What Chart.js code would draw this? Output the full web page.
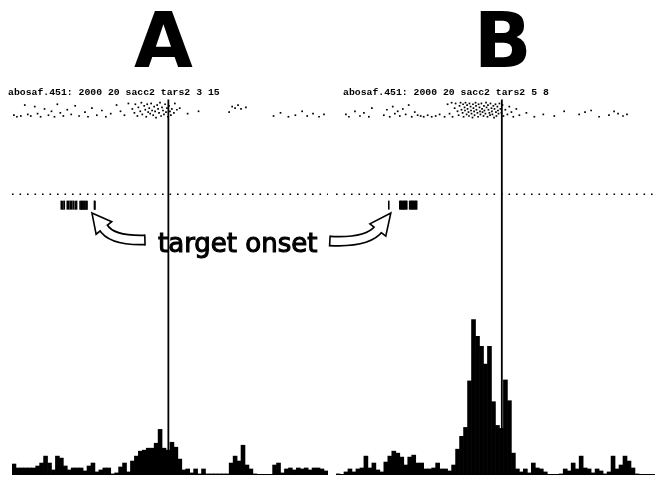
<!DOCTYPE html>
<html>
<head>
<meta charset="utf-8">
<script src="https://cdn.jsdelivr.net/npm/chart.js@4.4.1/dist/chart.umd.min.js"></script>
<style>
  html, body { margin: 0; padding: 0; background: #fff; }
  #wrap { position: relative; width: 661px; height: 481px; overflow: hidden; }
  canvas { position: absolute; top: 0; }
  #panelA { left: 0; }
  #panelB { left: 326px; }
</style>
</head>
<body>
<div id="wrap">
  <canvas id="panelA" width="334" height="481"></canvas>
  <canvas id="panelB" width="335" height="481"></canvas>
</div>
<script>
// window of 2000 ms per panel, histogram bins of 25 ms
const WINDOW_MS = 2000;
const BIN_MS = 25;

const headerA = 'abosaf.451: 2000 20 sacc2 tars2 3 15';
const headerB = 'abosaf.451: 2000 20 sacc2 tars2 5 8';

// saccade onset (ms into the window)
const saccadeA = 990;
const saccadeB = 1040;

// spike density histograms (spikes/s), one value per 25 ms bin
const histA = [11, 7, 7, 7, 7, 7, 9, 12, 19, 12,
  5, 19, 17, 9, 5, 7, 7, 7, 4, 9,
  12, 3, 5, 7, 7, 1, 2, 8, 12, 3,
  14, 19, 24, 25, 27, 27, 32, 46, 27, 25,
  33, 28, 16, 5, 6, 2, 6, 1, 6, 1,
  1, 1, 1, 1, 1, 12, 19, 14, 30, 10,
  6, 1, 0, 0, 0, 0, 10, 12, 2, 6,
  7, 5, 7, 6, 7, 5, 7, 7, 6, 4];
const histB = [1, 0, 3, 6, 3, 6, 7, 19, 7, 12,
  5, 3, 13, 19, 24, 22, 18, 10, 18, 20,
  12, 12, 6, 6, 7, 12, 6, 6, 4, 10,
  26, 39, 48, 95, 157, 140, 130, 112, 130, 74,
  50, 47, 96, 75, 22, 6, 3, 6, 2, 12,
  7, 6, 3, 0, 0, 0, 1, 6, 4, 12,
  6, 19, 7, 6, 2, 6, 4, 1, 3, 19,
  6, 10, 19, 14, 7, 1, 0, 0, 0, 0];

// raster: [time ms, trial]
const rasterA = [[12,17],[31,19],[56,18],[81,4],[100,16],[119,18],[144,6],[162,15],[181,19],[206,9],
  [231,17],[250,12],[269,19],[287,3],[306,14],[325,18],[350,10],[375,16],[400,5],[425,18],
  [462,13],[481,19],[506,8],[537,17],[569,11],[594,19],[625,15],[662,4],[687,12],[712,17],[737,2],
  [762,9],[775,14],[781,3],[794,18],[800,7],[812,12],[819,1],[825,16],[837,5],[844,10],
  [850,19],[856,3],[862,13],[869,8],[875,15],[881,2],[887,11],[894,17],[900,6],[906,12],
  [912,20],[919,4],[925,9],[931,14],[937,1],[944,18],[950,7],[956,11],[962,16],[969,3],
  [975,13],[981,8],[987,19],[994,5],[1000,12],[1006,17],[1012,9],[1025,14],[1031,2],[1044,10],
  [1062,8],[1112,15],[1181,12],
  [1375,13],[1394,6],[1412,8],[1431,4],[1450,9],[1481,7],
  [1656,18],[1700,14],[1750,19],[1794,17],[1837,12],[1869,18],[1906,15],[1944,19],[1975,16]];
const rasterB = [[62,16],[81,19],[119,12],[150,18],[175,14],[206,19],[225,8],
  [300,17],[319,10],[337,19],[356,6],[369,15],[387,12],[400,18],[419,9],[437,16],[456,4],
  [475,19],[494,13],[512,17],[531,18],[550,19],[575,17],[600,19],[625,18],[650,16],[681,19],
  [700,3],[712,15],[725,1],[731,19],[744,8],[750,2],[762,12],[769,17],[775,5],[781,1],
  [787,10],[794,14],[797,3],[800,19],[806,7],[809,11],[812,1],[819,16],[822,4],[825,9],
  [831,13],[834,18],[837,2],[844,6],[847,11],[850,15],[856,20],[859,3],[862,8],[866,12],
  [869,17],[875,1],[878,5],[881,10],[887,14],[891,19],[894,3],[900,7],[903,12],[906,16],
  [912,2],[916,9],[919,13],[925,18],[928,5],[931,11],[937,15],[941,1],[944,7],[950,19],
  [953,4],[956,10],[962,14],[966,17],[969,2],[975,8],[978,12],[981,16],[987,5],[991,20],
  [994,9],[1000,3],[1003,13],[1006,18],[1012,6],[1016,11],[1019,15],[1025,2],[1031,9],[1037,14],
  [1044,4],[1050,18],[1062,10],[1075,16],[1087,6],[1100,13],[1112,19],[1131,9],
  [1150,17],[1194,14],[1244,19],[1300,16],[1369,18],[1431,12],
  [1525,16],[1562,13],[1600,11],[1650,19],[1712,17],[1744,12],[1769,15],[1800,18],[1825,16]];

// target onset per trial (ms into the window)
const targetA = [312, 322, 331, 350, 359, 369, 378, 388, 400, 409, 431, 438, 444, 450, 456, 462, 469, 475, 522, 525];
const targetB = [331, 400, 406, 412, 419, 425, 431, 437, 444, 462, 469, 475, 481, 487, 494, 500, 506];

// vertical layout of the row axis
const ROW_MIN = -5, ROW_MAX = 477, LINE_TOP_ROW = -3;
const SEP_ROW = 118, TARGET_ROW = 132, ARROW_ROW = 142;
const HIST_MAX = 381;

function drawArrow(ctx, tip, end, ctrl, tail) {
  const d = Math.hypot(tip.x - end.x, tip.y - end.y);
  const ux = (tip.x - end.x) / d, uy = (tip.y - end.y) / d;
  const nx = -uy, ny = ux;
  const shaft = () => {
    ctx.beginPath();
    ctx.moveTo(tail.x, tail.y);
    ctx.quadraticCurveTo(ctrl.x, ctrl.y, end.x + ux * 1.5, end.y + uy * 1.5);
  };
  ctx.lineCap = 'butt';
  shaft();
  ctx.strokeStyle = '#000';
  ctx.lineWidth = 11;
  ctx.stroke();
  // head
  ctx.beginPath();
  ctx.moveTo(tip.x, tip.y);
  ctx.lineTo(end.x + nx * 10, end.y + ny * 10);
  ctx.lineTo(end.x - nx * 10, end.y - ny * 10);
  ctx.closePath();
  ctx.fillStyle = '#fff';
  ctx.fill();
  ctx.lineWidth = 1.6;
  ctx.lineJoin = 'miter';
  ctx.stroke();
  shaft();
  ctx.strokeStyle = '#fff';
  ctx.lineWidth = 7.6;
  ctx.stroke();
  // closed tail end
  const td = Math.hypot(ctrl.x - tail.x, ctrl.y - tail.y);
  const tx = -(ctrl.y - tail.y) / td, ty = (ctrl.x - tail.x) / td;
  ctx.beginPath();
  ctx.moveTo(tail.x + tx * 5.5, tail.y + ty * 5.5);
  ctx.lineTo(tail.x - tx * 5.5, tail.y - ty * 5.5);
  ctx.strokeStyle = '#000';
  ctx.lineWidth = 1.6;
  ctx.stroke();
}

function decoPlugin(p) {
  return {
    id: 'deco' + p.letter,
    afterDraw(chart) {
      const { ctx, chartArea } = chart;
      const x = chart.scales.x, r = chart.scales.yR;
      ctx.save();
      ctx.fillStyle = '#000';
      ctx.textBaseline = 'alphabetic';
      ctx.textAlign = 'center';
      ctx.font = 'bold 76px "DejaVu Sans"';
      ctx.fillText(p.letter, x.getPixelForValue(p.saccade) + p.letterDx, 67);
      ctx.textAlign = 'left';
      ctx.font = 'bold 9.8px "Liberation Mono"';
      ctx.fillText(p.header, chartArea.left + p.headerDx, 95);
      if (p.label) {
        // medium-weight caption: regular face with a thin outline
        ctx.font = '26px "DejaVu Sans"';
        ctx.strokeStyle = '#000';
        ctx.lineWidth = 1.1;
        ctx.fillText('target onset', chartArea.left + 146, 252);
        ctx.strokeText('target onset', chartArea.left + 146, 252);
      }
      const tip = { x: x.getPixelForValue(p.arrowTime), y: r.getPixelForValue(ARROW_ROW) };
      const a = p.arrow;
      drawArrow(ctx, tip,
        { x: tip.x + a.end[0], y: tip.y + a.end[1] },
        { x: tip.x + a.ctrl[0], y: tip.y + a.ctrl[1] },
        { x: tip.x + a.tail[0], y: tip.y + a.tail[1] });
      ctx.restore();
    }
  };
}

function buildPanel(id, p) {
  const hist = p.hist.map((v, i) => ({ x: (i + 0.5) * BIN_MS, y: v }));
  const spikes = p.raster.map(([t, trial]) => ({ x: t, y: trial }));
  const targets = p.targets.map(t => ({ x: t, y: TARGET_ROW }));
  return new Chart(document.getElementById(id), {
    type: 'bar',
    data: {
      datasets: [
        { type: 'bar', data: hist, yAxisID: 'y', backgroundColor: '#000', borderWidth: 0,
          barPercentage: 1, categoryPercentage: 1 },
        { type: 'line', data: [{ x: 0, y: 0 }, { x: WINDOW_MS, y: 0 }], yAxisID: 'y',
          borderColor: '#000', borderWidth: 2, pointRadius: 0 },
        { type: 'scatter', data: spikes, yAxisID: 'yR', pointStyle: 'rect', pointRadius: 1.2,
          pointBackgroundColor: '#000', pointBorderWidth: 0 },
        { type: 'scatter', data: targets, yAxisID: 'yR', pointStyle: 'line', pointRotation: 90,
          pointRadius: 4.5, pointBorderColor: '#000', pointBorderWidth: 1.6 },
        { type: 'line', data: [{ x: 0, y: SEP_ROW }, { x: WINDOW_MS, y: SEP_ROW }], yAxisID: 'yR',
          borderColor: '#000', borderWidth: 1.6, borderDash: [1.6, 5.9], pointRadius: 0 },
        { type: 'line', data: [{ x: p.saccade, y: LINE_TOP_ROW }, { x: p.saccade, y: ROW_MAX }], yAxisID: 'yR',
          borderColor: '#000', borderWidth: 1.8, pointRadius: 0 }
      ]
    },
    options: {
      responsive: false,
      animation: false,
      events: [],
      layout: { padding: { left: p.padLeft, right: p.padRight, top: 98, bottom: 2 } },
      plugins: { legend: { display: false }, tooltip: { enabled: false } },
      scales: {
        x: { type: 'linear', min: 0, max: WINDOW_MS, offset: false, display: false },
        y: { min: 0, max: HIST_MAX, display: false },
        yR: { type: 'linear', reverse: true, min: ROW_MIN, max: ROW_MAX, display: false }
      }
    },
    plugins: [decoPlugin(p)]
  });
}

buildPanel('panelA', {
  letter: 'A', letterDx: -5, header: headerA, headerDx: -4, label: true,
  hist: histA, raster: rasterA, targets: targetA, saccade: saccadeA,
  padLeft: 12, padRight: 2,
  arrowTime: 506, arrow: { end: [12, 15], ctrl: [19, 28], tail: [53, 27] }
});
buildPanel('panelB', {
  letter: 'B', letterDx: 1, header: headerB, headerDx: 7, label: false,
  hist: histB, raster: rasterB, targets: targetB, saccade: saccadeB,
  padLeft: 10, padRight: 5,
  arrowTime: 344, arrow: { end: [-13, 17], ctrl: [-23, 30], tail: [-61, 28] }
});
</script>
</body>
</html>
